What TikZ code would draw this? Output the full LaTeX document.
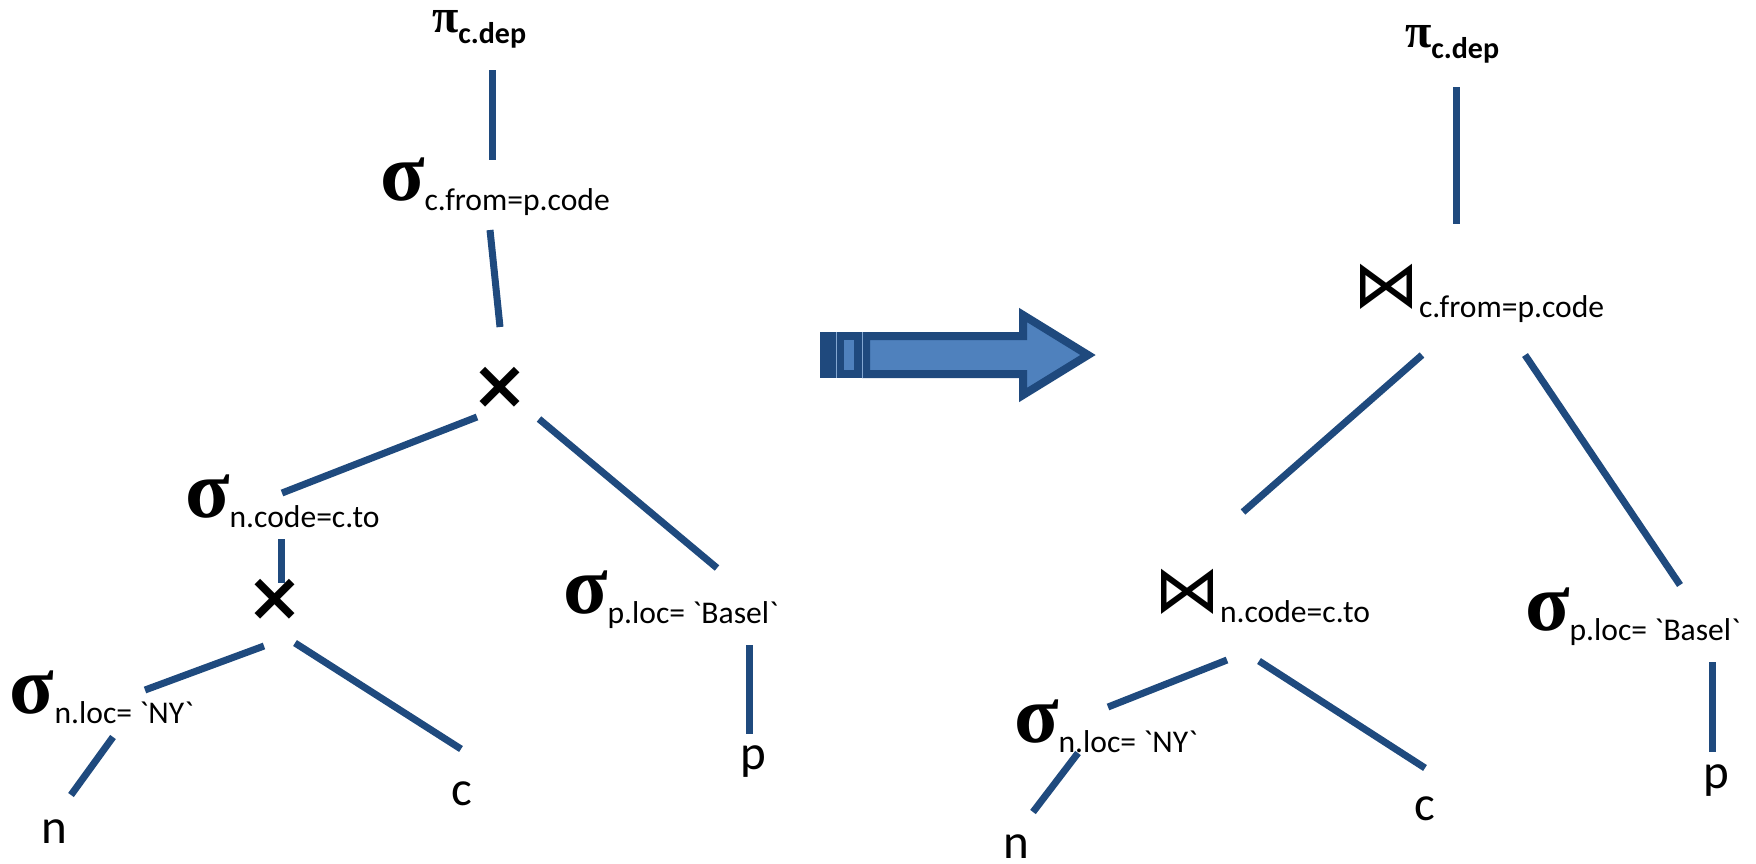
\documentclass[tikz,border=0pt]{standalone}
\usepackage{fontspec}
\setmainfont{Carlito}[Ligatures=TeXOff]
\newfontfamily\greekfont{Liberation Serif}
\newfontfamily\symfont{DejaVu Sans}

\definecolor{edgeblue}{HTML}{1F4A7E}
\definecolor{arrowfill}{HTML}{4F81BD}
\definecolor{arrowline}{HTML}{1F497D}

% operator glyphs and their subscripts
\newcommand\sigmaop{{\greekfont\bfseries\fontsize{41}{41}\selectfont σ}}
\newcommand\piop{{\greekfont\bfseries\fontsize{24}{24}\selectfont π}}
\newcommand\joinop{{\symfont\fontsize{33}{33}\selectfont ⋈}}
\newcommand\subt[1]{\raisebox{-5pt}{\fontsize{15.8}{16}\selectfont #1}}
\newcommand\subbold[1]{\raisebox{-5.5pt}{\bfseries\fontsize{15}{15}\selectfont #1}}
\newcommand\leaffont{\fontsize{24.5}{25}\selectfont}
\newcommand\crossfont{\symfont\bfseries\fontsize{34}{34}\selectfont}
\newcommand\gr{\symbol{96}}

\begin{document}
\begin{tikzpicture}[x=0.5pt,y=-0.5pt,
  edge/.style={draw=edgeblue,line width=3.5pt},
  op/.style={anchor=base west,inner sep=0pt,outer sep=0pt},
  leaf/.style={anchor=base,inner sep=0pt,font=\leaffont},
  cross/.style={inner sep=0pt,font=\crossfont},
  arrowpart/.style={fill=arrowfill,draw=arrowline,line width=4pt,miter limit=10}]
\useasboundingbox (0,0) rectangle (1756,863);

% ---------- left plan: selections over cross products ----------
\node[op] (piL)  at (432,32)  {\piop\subbold{c.dep}};
\node[op] (sgL1) at (380,200) {\sigmaop\subt{c.from=p.code}};
\node[cross] (xL1) at (500,388) {×};
\node[op] (sgL2) at (185,517) {\sigmaop\subt{n.code=c.to}};
\node[cross] (xL2) at (275,600) {×};
\node[op] (sgL3) at (10,713)  {\sigmaop\subt{n.loc= \gr NY\gr}};
\node[op] (sgL4) at (563,613) {\sigmaop\subt{p.loc= \gr Basel\gr}};
\node[leaf] (nL) at (54,843)  {n};
\node[leaf] (cL) at (462,805) {c};
\node[leaf] (pL) at (753,769) {p};

\coordinate (piL-s)  at (492,70);   \coordinate (sgL1-n) at (492,160);
\coordinate (sgL1-s) at (490,230);  \coordinate (xL1-n)  at (500,327);
\coordinate (xL1-sw) at (477,417);  \coordinate (sgL2-ne) at (282,493);
\coordinate (xL1-se) at (539,419);  \coordinate (sgL4-n) at (717,568);
\coordinate (sgL2-s) at (281,539);  \coordinate (xL2-n)  at (281,583);
\coordinate (xL2-sw) at (264,646);  \coordinate (sgL3-ne) at (145,690);
\coordinate (xL2-se) at (295,643);  \coordinate (cL-n)   at (461,749);
\coordinate (sgL3-s) at (113,737);  \coordinate (nL-n)   at (71,795);
\coordinate (sgL4-s) at (749,645);  \coordinate (pL-n)   at (749,734);

\draw[edge] (piL-s) -- (sgL1-n);
\draw[edge] (sgL1-s) -- (xL1-n);
\draw[edge] (xL1-sw) -- (sgL2-ne);
\draw[edge] (xL1-se) -- (sgL4-n);
\draw[edge] (sgL2-s) -- (xL2-n);
\draw[edge] (xL2-sw) -- (sgL3-ne);
\draw[edge] (xL2-se) -- (cL-n);
\draw[edge] (sgL3-s) -- (nL-n);
\draw[edge] (sgL4-s) -- (pL-n);

% ---------- striped block arrow ----------
\fill[arrowline] (820,332) rectangle (836,378);
\draw[arrowpart] (840,336) rectangle (858,374);
\draw[arrowpart] (866,336) -- (1023,336) -- (1023,315) -- (1088,355)
  -- (1023,395) -- (1023,374) -- (866,374) -- cycle;
\draw[arrowfill!70!white,line width=0.4pt] (836,332) -- (836,378);
\draw[arrowfill!70!white,line width=0.4pt] (862,332) -- (862,378);

% ---------- right plan: joins ----------
\node[op] (piR)  at (1405,47)  {\piop\subbold{c.dep}};
\node[op] (jR1)  at (1353,307) {\joinop\subt{c.from=p.code}};
\node[op] (jR2)  at (1154,612) {\joinop\subt{n.code=c.to}};
\node[op] (sgR3) at (1014,742) {\sigmaop\subt{n.loc= \gr NY\gr}};
\node[op] (sgR4) at (1525,630) {\sigmaop\subt{p.loc= \gr Basel\gr}};
\node[leaf] (nR) at (1016,858) {n};
\node[leaf] (cR) at (1425,820) {c};
\node[leaf] (pR) at (1716,788) {p};

\coordinate (piR-s)  at (1456,87);   \coordinate (jR1-n)  at (1456,224);
\coordinate (jR1-sw) at (1422,355);  \coordinate (jR2-ne) at (1243,512);
\coordinate (jR1-se) at (1525,355);  \coordinate (sgR4-n) at (1680,585);
\coordinate (jR2-sw) at (1227,660);  \coordinate (sgR3-ne) at (1108,707);
\coordinate (jR2-se) at (1259,661);  \coordinate (cR-n)   at (1425,768);
\coordinate (sgR3-s) at (1078,753);  \coordinate (nR-n)   at (1033,812);
\coordinate (sgR4-s) at (1712,662);  \coordinate (pR-n)   at (1712,752);

\draw[edge] (piR-s) -- (jR1-n);
\draw[edge] (jR1-sw) -- (jR2-ne);
\draw[edge] (jR1-se) -- (sgR4-n);
\draw[edge] (jR2-sw) -- (sgR3-ne);
\draw[edge] (jR2-se) -- (cR-n);
\draw[edge] (sgR3-s) -- (nR-n);
\draw[edge] (sgR4-s) -- (pR-n);
\end{tikzpicture}
\end{document}
